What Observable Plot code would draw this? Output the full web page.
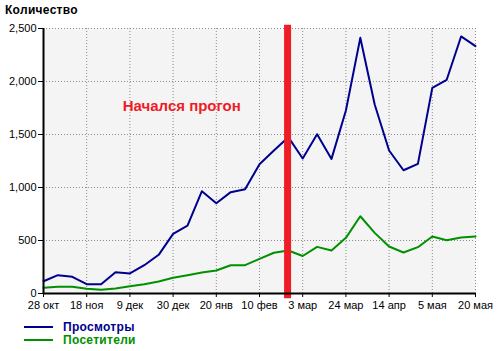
<!DOCTYPE html>
<html><head><meta charset="utf-8">
<script src="https://cdn.jsdelivr.net/npm/d3@7"></script>
<script src="https://cdn.jsdelivr.net/npm/@observablehq/plot@0.6"></script>
<style>
body{margin:0;background:#fff;font-family:"Liberation Sans",Arial,sans-serif;}
#wrap{position:relative;width:500px;height:351px;overflow:hidden;}
#title{position:absolute;left:5px;top:3px;font-weight:bold;font-size:12px;color:#000;letter-spacing:0.3px;}
#legend{position:absolute;left:24px;top:320px;font-size:12px;font-weight:bold;letter-spacing:0.3px;}
.item{display:flex;align-items:center;height:13px;}
.sw{width:29px;height:2px;margin-right:10px;}
</style></head>
<body><div id="wrap"><div id="chart"></div><div id="title">Количество</div><div id="legend"></div></div>
<script>
// weekly points, index 0..30
const weekIndex = [0,1,2,3,4,5,6,7,8,9,10,11,12,13,14,15,16,17,18,19,20,21,22,23,24,25,26,27,28,29,30];
const views = [116,173,157,88,88,201,189,267,365,563,641,965,852,956,984,1220,1349,1475,1274,1503,1270,1726,2412,1783,1349,1163,1223,1940,2016,2425,2333];
const visitors = [54,63,63,44,35,47,69,88,113,148,173,198,217,267,267,327,384,406,354,440,406,525,729,572,443,387,437,538,503,528,538];
const xTickIndex = [0,3,6,9,12,15,18,21,24,27,30];
const xTickLabels = ["28 окт","18 ноя","9 дек","30 дек","20 янв","10 фев","3 мар","24 мар","14 апр","5 мая","20 мая"];
const yTicks = [0,500,1000,1500,2000,2500];
const seriesNames = ["Просмотры","Посетители"];
const seriesColors = ["#00008f","#009000"];
const markerIndex = 16.95;          // "Начался прогон" marker position (week index)
const annotation = {x: 9.6, y: 1770, text: "Начался прогон"};

const rows = [];
weekIndex.forEach((w,i)=>{
  rows.push({w, v: views[i], s: seriesNames[0]});
  rows.push({w, v: visitors[i], s: seriesNames[1]});
});

const chart = Plot.plot({
  width: 500, height: 318,
  marginLeft: 43, marginRight: 25, marginTop: 28, marginBottom: 25,
  style: {fontFamily: '"Liberation Sans", Arial, sans-serif', fontSize: "11px", background: "transparent", color: "#000"},
  x: {type: "linear", domain: [0,30]},
  y: {domain: [0,2500]},
  color: {domain: seriesNames, range: seriesColors},
  marks: [
    Plot.frame({fill: "#f4f4f4", stroke: null}),
    Plot.ruleX(xTickIndex.slice(1), {stroke: "#8a8a8a", strokeDasharray: "1,2", strokeWidth: 1}),
    Plot.ruleY(yTicks.slice(1), {stroke: "#8a8a8a", strokeDasharray: "1,2", strokeWidth: 1}),
    Plot.axisY({ticks: yTicks, tickFormat: d3.format(","), tickSize: 5, tickPadding: 2, label: null, fontSize: 11, stroke: "#000"}),
    Plot.axisX({ticks: xTickIndex, tickFormat: d => xTickLabels[xTickIndex.indexOf(d)], tickSize: 4, tickPadding: 4, label: null, fontSize: 11, stroke: "#000"}),
    Plot.line(rows, {x: "w", y: "v", stroke: "s", z: "s", strokeWidth: 2}),
    Plot.ruleX([markerIndex], {y1: -50, y2: 2530, stroke: "#ee1c25", strokeWidth: 7}),
    Plot.ruleX([0], {stroke: "#000", strokeWidth: 2, y1: 0, y2: 2500}),
    Plot.ruleY([0], {stroke: "#000", strokeWidth: 2}),
    Plot.text([annotation], {x: "x", y: "y", text: "text", fill: "#ee1c25", fontSize: 15, fontWeight: "bold", textAnchor: "middle"})
  ]
});
document.getElementById("chart").appendChild(chart);

const legend = document.getElementById("legend");
seriesNames.forEach((n,i)=>{
  const it = document.createElement("div"); it.className = "item";
  const sw = document.createElement("div"); sw.className = "sw"; sw.style.background = seriesColors[i];
  const t = document.createElement("span"); t.textContent = n; t.style.color = seriesColors[i];
  it.appendChild(sw); it.appendChild(t); legend.appendChild(it);
});
</script>
</body></html>
